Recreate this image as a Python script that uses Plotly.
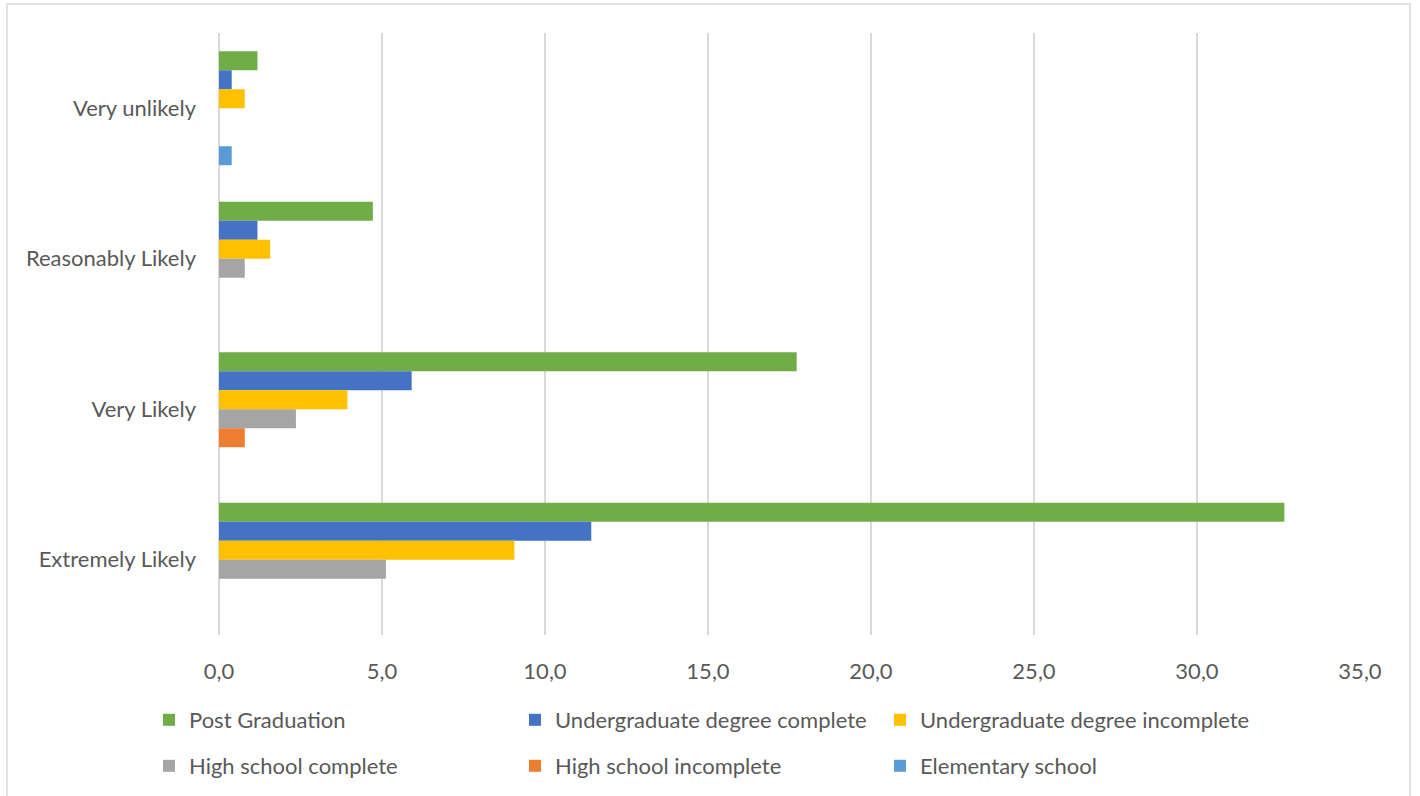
import plotly.graph_objects as go

# Likelihood categories, listed top to bottom
categories = ["Very unlikely", "Reasonably Likely", "Very Likely", "Extremely Likely"]

# Share of respondents (%) by education level
post_graduation = [1.18, 4.72, 17.72, 32.68]
undergrad_complete = [0.39, 1.18, 5.91, 11.42]
undergrad_incomplete = [0.79, 1.57, 3.94, 9.06]
high_school_complete = [0.0, 0.79, 2.36, 5.12]
high_school_incomplete = [0.0, 0.0, 0.79, 0.0]
elementary_school = [0.39, 0.0, 0.0, 0.0]

series_names = [
    "Post Graduation", "Undergraduate degree complete", "Undergraduate degree incomplete",
    "High school complete", "High school incomplete", "Elementary school",
]
series_values = [
    post_graduation, undergrad_complete, undergrad_incomplete,
    high_school_complete, high_school_incomplete, elementary_school,
]
series_colors = ["#70AD47", "#4472C4", "#FFC000", "#A5A5A5", "#ED7D31", "#5B9BD5"]

x_ticks = [0, 5, 10, 15, 20, 25, 30, 35]

FONT = "Lato, Open Sans, sans-serif"
TEXT = "#595959"
FS = 22

W, H = 1420, 796
L, R, T, B = 219, 60, 33, 161
pw, ph = W - L - R, H - T - B


def px_x(p):
    return (p - L) / pw


def px_y(p):
    return (H - B - p) / ph


fig = go.Figure()
legend_layout = {}
# legend entries laid out in a 3-column, 2-row grid, one legend box per entry
col_px = [149, 515, 880]
row_px = [720, 766]
for i, (name, vals, color) in enumerate(zip(series_names, series_values, series_colors)):
    key = "legend" if i == 0 else f"legend{i + 1}"
    fig.add_trace(go.Bar(
        name=name, y=categories, x=vals, orientation="h",
        marker=dict(color=color, line=dict(width=0)),
        legend=key, showlegend=True,
    ))
    legend_layout[key] = dict(
        x=col_px[i % 3] / W, y=1 - row_px[i // 3] / H,
        xref="container", yref="container",
        xanchor="left", yanchor="middle", orientation="h",
        font=dict(family=FONT, size=FS, color=TEXT),
        itemwidth=30, bgcolor="rgba(0,0,0,0)",
    )

fig.update_layout(
    width=W, height=H,
    margin=dict(l=L, r=R, t=T, b=B, autoexpand=False),
    showlegend=True,
    paper_bgcolor="white", plot_bgcolor="white",
    barmode="group", bargap=0.243, bargroupgap=0,
    separators=",.",
    font=dict(family=FONT, size=FS, color=TEXT),
    xaxis=dict(
        range=[0, 35], tickvals=x_ticks, tickformat=".1f",
        showgrid=True, gridcolor="#D9D9D9", gridwidth=1.5,
        zeroline=True, zerolinecolor="#D9D9D9", zerolinewidth=1.5,
        showline=False, ticks="", ticklabelstandoff=21,
        tickfont=dict(family=FONT, size=FS, color=TEXT),
    ),
    yaxis=dict(
        categoryorder="array", categoryarray=categories,
        autorange="reversed", showgrid=False, zeroline=False,
        showline=False, ticks="", ticklabelstandoff=22,
        tickfont=dict(family=FONT, size=FS, color=TEXT),
    ),
    shapes=[dict(
        type="rect", xref="paper", yref="paper",
        x0=px_x(7), x1=px_x(1410), y0=px_y(805), y1=px_y(4),
        line=dict(color="#D9D9D9", width=1.5), fillcolor="rgba(0,0,0,0)",
        layer="below",
    )],
    **legend_layout,
)

fig.write_html("out.html")
